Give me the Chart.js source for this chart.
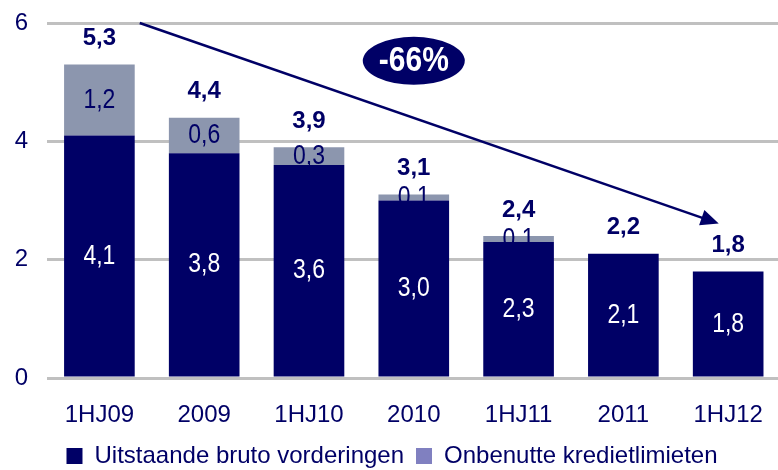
<!DOCTYPE html>
<html>
<head>
<meta charset="utf-8">
<script src="https://cdn.jsdelivr.net/npm/chart.js@4/dist/chart.umd.min.js"></script>
<style>
  html, body { margin: 0; padding: 0; background: #fff; overflow: hidden; }
  #wrap { width: 786px; height: 470px; }
</style>
</head>
<body>
<div id="wrap"><canvas id="chart"></canvas></div>
<script>
const categories = ['1HJ09', '2009', '1HJ10', '2010', '1HJ11', '2011', '1HJ12'];
const uitstaande = [4.1, 3.8, 3.6, 3.0, 2.3, 2.1, 1.8];
const onbenut = [1.2, 0.6, 0.3, 0.1, 0.1, 0, 0];
const totals = [5.3, 4.4, 3.9, 3.1, 2.4, 2.2, 1.8];
const yTicks = [0, 2, 4, 6];
const trendLabel = '-66%';

const NAVY = '#000066';
const GREY = '#8c96ae';
const FONT = '"Liberation Sans", Arial, sans-serif';

const fmt = v => v.toFixed(1).replace('.', ',');

// trend arrow + ellipse, placed in data units (category index, value)
const arrow = { from: [0.385, 6.0], to: [5.91, 2.61], badge: [3.0, 5.36] };

// text slightly stretched vertically, like the original slide
function tallText(ctx, txt, x, y, sy) {
  ctx.save();
  ctx.translate(x, y);
  ctx.scale(1, sy);
  ctx.fillText(txt, 0, 0);
  ctx.restore();
}

const labelPlugin = {
  id: 'labels',
  afterDatasetsDraw(chart) {
    const ctx = chart.ctx;
    const xs = chart.scales.x, ys = chart.scales.y;
    ctx.save();
    ctx.textAlign = 'center';
    ctx.textBaseline = 'middle';
    chart.data.datasets.forEach((ds, di) => {
      const meta = chart.getDatasetMeta(di);
      meta.data.forEach((bar, i) => {
        const v = ds.data[i];
        if (!v) return;
        ctx.font = '23px ' + FONT;
        ctx.fillStyle = di === 0 ? '#ffffff' : NAVY;
        tallText(ctx, fmt(v), bar.x, (bar.y + bar.base) / 2, 1.2);
      });
    });
    // totals above the stacks
    ctx.font = 'bold 24px ' + FONT;
    ctx.fillStyle = NAVY;
    totals.forEach((t, i) => {
      const top = ys.getPixelForValue(uitstaande[i] + onbenut[i]);
      ctx.fillText(fmt(t), xs.getPixelForValue(i), top - 26);
    });

    // arrow
    const x1 = xs.getPixelForValue(arrow.from[0]), y1 = ys.getPixelForValue(arrow.from[1]);
    const x2 = xs.getPixelForValue(arrow.to[0]), y2 = ys.getPixelForValue(arrow.to[1]);
    const ang = Math.atan2(y2 - y1, x2 - x1);
    ctx.strokeStyle = NAVY;
    ctx.lineWidth = 2.5;
    ctx.beginPath();
    ctx.moveTo(x1, y1);
    ctx.lineTo(x2 - 12 * Math.cos(ang), y2 - 12 * Math.sin(ang));
    ctx.stroke();
    ctx.beginPath();
    ctx.moveTo(x2, y2);
    ctx.lineTo(x2 - 18 * Math.cos(ang) + 8 * Math.sin(ang), y2 - 18 * Math.sin(ang) - 8 * Math.cos(ang));
    ctx.lineTo(x2 - 18 * Math.cos(ang) - 8 * Math.sin(ang), y2 - 18 * Math.sin(ang) + 8 * Math.cos(ang));
    ctx.closePath();
    ctx.fillStyle = NAVY;
    ctx.fill();

    // -66% badge
    const bx = xs.getPixelForValue(arrow.badge[0]), by = ys.getPixelForValue(arrow.badge[1]);
    ctx.beginPath();
    ctx.ellipse(bx, by, 51, 24, 0, 0, Math.PI * 2);
    ctx.fill();
    ctx.fillStyle = '#ffffff';
    ctx.font = 'bold 30px ' + FONT;
    tallText(ctx, trendLabel, bx, by + 1, 1.15);
    ctx.restore();
  }
};

new Chart(document.getElementById('chart'), {
  type: 'bar',
  data: {
    labels: categories,
    datasets: [{
      label: 'Uitstaande bruto vorderingen',
      data: uitstaande,
      backgroundColor: NAVY
    }, {
      label: 'Onbenutte kredietlimieten',
      data: onbenut,
      backgroundColor: GREY
    }]
  },
  options: {
    responsive: true,
    maintainAspectRatio: false,
    animation: false,
    barPercentage: 0.674,
    categoryPercentage: 1,
    layout: { padding: { top: 23, right: 2, left: 0, bottom: -8 } },
    plugins: {
      tooltip: { enabled: false },
      legend: {
        position: 'bottom',
        labels: {
          color: NAVY,
          font: { family: FONT, size: 24 },
          boxWidth: 16,
          boxHeight: 16,
          padding: 12,
          generateLabels(chart) {
            const items = Chart.defaults.plugins.legend.labels.generateLabels(chart);
            items[0].fillStyle = NAVY;
            items[1].fillStyle = '#8080c0';
            items.forEach(it => { it.strokeStyle = 'rgba(0,0,0,0)'; it.lineWidth = 0; });
            return items;
          }
        }
      }
    },
    scales: {
      x: {
        stacked: true,
        afterFit(scale) { scale.height = 54; scale.paddingTop = 0; scale.paddingBottom = 0; },
        grid: { display: false, drawTicks: false },
        border: { display: false },
        ticks: { color: NAVY, font: { family: FONT, size: 24 }, padding: 23, maxRotation: 0 }
      },
      y: {
        stacked: true,
        min: 0,
        max: 6,
        afterBuildTicks(scale) { scale.ticks = yTicks.map(v => ({ value: v })); },
        afterFit(scale) { scale.width = 47; scale.paddingTop = 0; scale.paddingBottom = 0; },
        grid: { color: '#c0c0c0', lineWidth: 3, drawTicks: false },
        border: { display: false },
        ticks: { color: NAVY, font: { family: FONT, size: 24 }, padding: 19 }
      }
    }
  },
  plugins: [labelPlugin]
});
</script>
</body>
</html>
